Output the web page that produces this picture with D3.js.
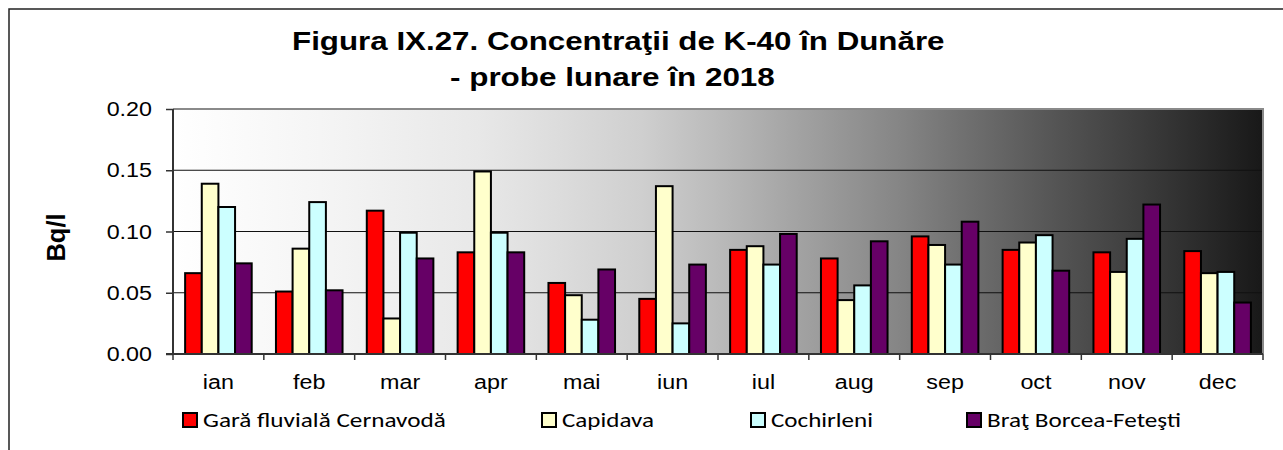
<!DOCTYPE html>
<html><head><meta charset="utf-8">
<script src="https://cdn.jsdelivr.net/npm/d3@7"></script>
<style>body{margin:0;background:#fff}</style>
</head><body><svg id="c" width="1283" height="450"></svg>
<script>
const months = ["ian","feb","mar","apr","mai","iun","iul","aug","sep","oct","nov","dec"];
const seriesNames = ["Gară fluvială Cernavodă","Capidava","Cochirleni","Braţ Borcea-Feteşti"];
const cernavoda  = [0.066,0.051,0.117,0.083,0.058,0.045,0.085,0.078,0.096,0.085,0.083,0.084];
const capidava   = [0.139,0.086,0.029,0.149,0.048,0.137,0.088,0.044,0.089,0.091,0.067,0.066];
const cochirleni = [0.120,0.124,0.099,0.099,0.028,0.025,0.073,0.056,0.073,0.097,0.094,0.067];
const borcea     = [0.074,0.052,0.078,0.083,0.069,0.073,0.098,0.092,0.108,0.068,0.122,0.042];
const yTickValues = [0,0.05,0.10,0.15,0.20];
const title1 = "Figura IX.27. Concentraţii de K-40 în Dunăre";
const title2 = "- probe lunare în 2018";
const yTitle = "Bq/l";

const seriesValues = [cernavoda, capidava, cochirleni, borcea];
const colors = ["#ff0000","#ffffcc","#ccffff","#660066"];

const svg = d3.select("#c");
const L = 173, R = 1263, T = 109, B = 354;
const SX = 1.11; // horizontal stretch of axis labels

function fitText(sel, x, y, w) {
  sel.attr("x", 0).attr("y", 0);
  const n = sel.node().getComputedTextLength();
  sel.attr("transform", `translate(${x},${y}) scale(${w / n},1)`);
}

// outer frame (clipped on right/bottom)
svg.append("rect").attr("x",9).attr("y",9).attr("width",1300).attr("height",500)
  .attr("fill","#fff").attr("stroke","#222").attr("stroke-width",1.5);

// gradient
const defs = svg.append("defs");
const g = defs.append("linearGradient").attr("id","bg").attr("x1","0").attr("x2","1").attr("y1","0").attr("y2","0");
[[0,255],[0.135,245],[0.28,232],[0.355,220],[0.43,207],[0.5,186],[0.575,162],[0.667,133],[0.72,114],[0.805,86],[0.896,58],[1,24]]
  .forEach(([o,v])=>g.append("stop").attr("offset",o).attr("stop-color",d3.rgb(v,v,v)));

const x = d3.scaleBand().domain(months).range([L,R]).padding(0);
const bw = x.bandwidth();
const xs = d3.scaleBand().domain(d3.range(4)).range([bw*0.1335, bw*(1-0.1335)]);
const y = d3.scaleLinear().domain([0,0.2]).range([B,T]);

svg.append("rect").attr("x",L).attr("y",T).attr("width",R-L).attr("height",B-T).attr("fill","url(#bg)");

// gridlines
svg.append("g").selectAll("line").data(yTickValues.filter(v=>v>0 && v<0.2)).join("line")
  .attr("x1",L).attr("x2",R).attr("y1",d=>y(d)).attr("y2",d=>y(d))
  .attr("stroke","#111").attr("stroke-width",1.2);

// plot border top/right
svg.append("path").attr("d",`M${L},${T}H${R}V${B}`).attr("fill","none").attr("stroke","#8a8a8a").attr("stroke-width",2);

// bars
const groups = svg.append("g").selectAll("g").data(months).join("g")
  .attr("transform",d=>`translate(${x(d)},0)`);
groups.selectAll("rect").data((m,i)=>seriesValues.map((s,k)=>({k,v:s[i]}))).join("rect")
  .attr("x",d=>xs(d.k)).attr("width",xs.bandwidth())
  .attr("y",d=>y(d.v)).attr("height",d=>B-y(d.v))
  .attr("fill",d=>colors[d.k]).attr("stroke","#000").attr("stroke-width",2);

// axes
const yAxis = d3.axisLeft(y).tickValues(yTickValues).tickFormat(d3.format(".2f")).tickSize(7).tickPadding(14);
const ya = svg.append("g").attr("transform",`translate(${L},0)`).call(yAxis);
ya.select(".domain").remove();
ya.selectAll(".tick line").attr("stroke","#333").attr("stroke-width",1.5);
ya.selectAll("text").attr("font-family","Liberation Sans, Arial").attr("font-size",21).attr("fill","#000")
  .attr("x",-21/SX).attr("transform",`scale(${SX},1)`);
svg.append("line").attr("x1",L).attr("x2",L).attr("y1",T).attr("y2",B+1).attr("stroke","#333").attr("stroke-width",2);

const xAxis = d3.axisBottom(x).tickSize(0).tickPadding(20);
const xa = svg.append("g").attr("transform",`translate(0,${B})`).call(xAxis);
xa.select(".domain").remove();
xa.selectAll("text").attr("font-family","Liberation Sans, Arial").attr("font-size",21).attr("fill","#000")
  .attr("transform",`scale(${SX},1)`);
// category separators
xa.append("g").selectAll("line").data(months.concat(["_end"])).join("line")
  .attr("x1",(d,i)=>L+i*bw).attr("x2",(d,i)=>L+i*bw).attr("y1",0).attr("y2",6)
  .attr("stroke","#333").attr("stroke-width",1.5);
svg.append("line").attr("x1",L-7).attr("x2",R).attr("y1",B).attr("y2",B).attr("stroke","#333").attr("stroke-width",2);

// titles
const t1 = svg.append("text").attr("font-family","Liberation Sans, Arial").attr("font-weight","bold").attr("font-size",25.5).text(title1);
fitText(t1, 292, 50, 653);
const t2 = svg.append("text").attr("font-family","Liberation Sans, Arial").attr("font-weight","bold").attr("font-size",25.5).text(title2);
fitText(t2, 450, 85.5, 325);
svg.append("text").attr("transform","translate(65,237.5) rotate(-90)").attr("text-anchor","middle")
  .attr("font-family","Liberation Sans, Arial").attr("font-weight","bold").attr("font-size",25.5).text(yTitle);

// legend
const legX = [183, 542, 751, 967];
const legW = [243, 92, 102, 194];
const leg = svg.append("g").selectAll("g").data(seriesNames).join("g")
  .attr("transform",(d,i)=>`translate(${legX[i]},413)`);
leg.append("rect").attr("width",14).attr("height",14).attr("fill",(d,i)=>colors[i]).attr("stroke","#000").attr("stroke-width",2);
leg.append("text").attr("font-family","Carlito, Lato, sans-serif").attr("font-size",20).text(d=>d)
  .each(function(d,i){ fitText(d3.select(this), 20, 14.3, legW[i]); });
</script></body></html>
